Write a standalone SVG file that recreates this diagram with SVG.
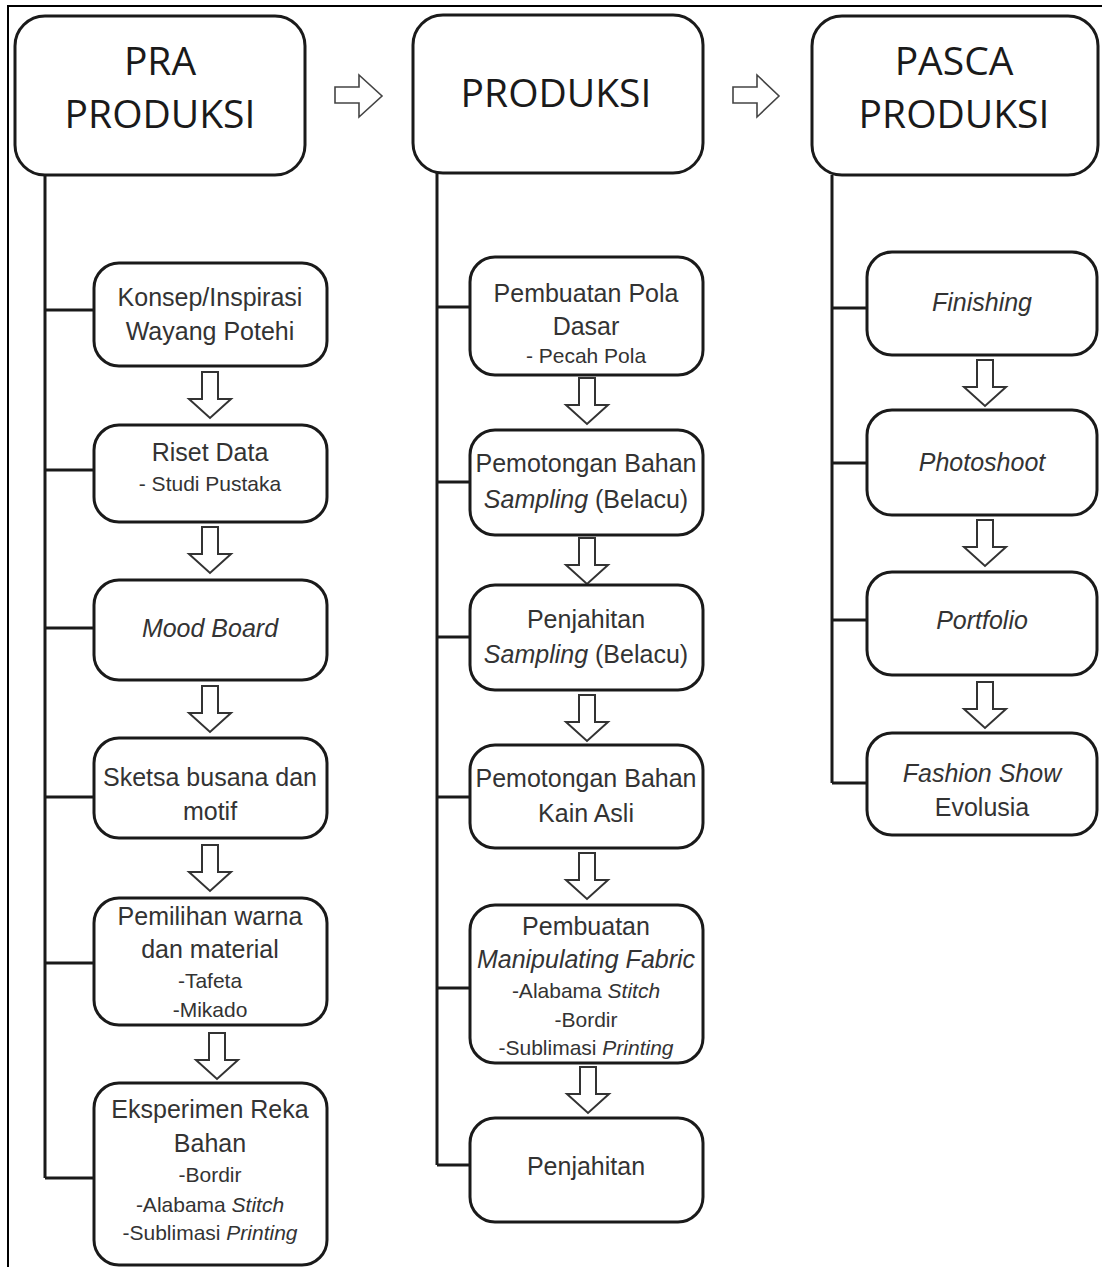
<svg xmlns="http://www.w3.org/2000/svg" width="1102" height="1267" viewBox="0 0 1102 1267">
<style>
.frame{fill:none;stroke:#000;stroke-width:2}
.hbox{fill:#fff;stroke:#1a1a1a;stroke-width:3}
.box{fill:#fff;stroke:#1a1a1a;stroke-width:3}
.conn{fill:none;stroke:#1a1a1a;stroke-width:3}
.darr{fill:#fff;stroke:#333;stroke-width:2;stroke-linejoin:miter}
.harr{fill:#fff;stroke:#444;stroke-width:1.6}
.ht{font-family:'Open Sans','Noto Sans',sans-serif;font-size:39px;fill:#1a1a1a;text-anchor:middle}
.t{font-family:'Liberation Sans',Arial,sans-serif;font-size:25px;fill:#333;text-anchor:middle}
.s{font-family:'Liberation Sans',Arial,sans-serif;font-size:21px;fill:#333;text-anchor:middle}
.i{font-style:italic}
</style>
<defs>
<path id="da" d="M-8,0 H8 V27 H21 L0,46 L-21,27 H-8 Z"/>
</defs>
<g id="frame">
<path class="frame" d="M8,1267 V6 H1102"/>
</g>
<g id="connectors">
<path class="conn" d="M45,175 V1178 M45,310 H95 M45,470 H95 M45,628 H95 M45,797 H95 M45,963 H95 M45,1178 H95"/>
<path class="conn" d="M437,173 V1165 M437,307 H470 M437,482 H470 M437,637 H470 M437,797 H470 M437,988 H470 M437,1165 H470"/>
<path class="conn" d="M832,175 V783 M832,308 H867 M832,463 H867 M832,620 H867 M832,783 H867"/>
<path class="harr" d="M335,87 H359 V75 L382,96 L359,117 V103 H335 Z"/>
<path class="harr" d="M733,87 H757 V75 L779,96 L757,117 V103 H733 Z"/>
<use href="#da" class="darr" x="210" y="372"/>
<use href="#da" class="darr" x="210" y="527"/>
<use href="#da" class="darr" x="210" y="686"/>
<use href="#da" class="darr" x="210" y="845"/>
<use href="#da" class="darr" x="217" y="1033"/>
<use href="#da" class="darr" x="587" y="378"/>
<use href="#da" class="darr" x="587" y="538"/>
<use href="#da" class="darr" x="587" y="695"/>
<use href="#da" class="darr" x="587" y="853"/>
<use href="#da" class="darr" x="588" y="1067"/>
<use href="#da" class="darr" x="985" y="360"/>
<use href="#da" class="darr" x="985" y="520"/>
<use href="#da" class="darr" x="985" y="682"/>
</g>
<g id="pra">
<rect class="hbox" x="15" y="16" width="290" height="159" rx="30"/>
<text class="ht" x="160" y="75">PRA</text>
<text class="ht" x="160" y="128">PRODUKSI</text>
</g>
<g id="produksi">
<rect class="hbox" x="413" y="15" width="290" height="158" rx="30"/>
<text class="ht" x="556" y="107">PRODUKSI</text>
</g>
<g id="pasca">
<rect class="hbox" x="812" y="16" width="286" height="159" rx="30"/>
<text class="ht" x="954" y="75">PASCA</text>
<text class="ht" x="954" y="128">PRODUKSI</text>
</g>
<g id="konsep">
<rect class="box" x="94" y="263" width="233" height="103" rx="25"/>
<text class="t" x="210" y="306">Konsep/Inspirasi</text>
<text class="t" x="210" y="340">Wayang Potehi</text>
</g>
<g id="riset">
<rect class="box" x="94" y="425" width="233" height="97" rx="25"/>
<text class="t" x="210" y="461">Riset Data</text>
<text class="s" x="210" y="491">- Studi Pustaka</text>
</g>
<g id="mood">
<rect class="box" x="94" y="580" width="233" height="100" rx="25"/>
<text class="t i" x="210" y="637">Mood Board</text>
</g>
<g id="sketsa">
<rect class="box" x="94" y="738" width="233" height="100" rx="25"/>
<text class="t" x="210" y="786">Sketsa busana dan</text>
<text class="t" x="210" y="820">motif</text>
</g>
<g id="pemilihan">
<rect class="box" x="94" y="898" width="233" height="127" rx="25"/>
<text class="t" x="210" y="925">Pemilihan warna</text>
<text class="t" x="210" y="958">dan material</text>
<text class="s" x="210" y="988">-Tafeta</text>
<text class="s" x="210" y="1017">-Mikado</text>
</g>
<g id="eksperimen">
<rect class="box" x="94" y="1083" width="233" height="182" rx="25"/>
<text class="t" x="210" y="1118">Eksperimen Reka</text>
<text class="t" x="210" y="1152">Bahan</text>
<text class="s" x="210" y="1182">-Bordir</text>
<text class="s" x="210" y="1212">-Alabama <tspan class="i">Stitch</tspan></text>
<text class="s" x="210" y="1240">-Sublimasi <tspan class="i">Printing</tspan></text>
</g>
<g id="pola">
<rect class="box" x="470" y="257" width="233" height="118" rx="25"/>
<text class="t" x="586" y="302">Pembuatan Pola</text>
<text class="t" x="586" y="335">Dasar</text>
<text class="s" x="586" y="363">- Pecah Pola</text>
</g>
<g id="potong-sampling">
<rect class="box" x="470" y="430" width="233" height="105" rx="25"/>
<text class="t" x="586" y="472">Pemotongan Bahan</text>
<text class="t" x="586" y="508"><tspan class="i">Sampling</tspan> (Belacu)</text>
</g>
<g id="jahit-sampling">
<rect class="box" x="470" y="585" width="233" height="105" rx="25"/>
<text class="t" x="586" y="628">Penjahitan</text>
<text class="t" x="586" y="663"><tspan class="i">Sampling</tspan> (Belacu)</text>
</g>
<g id="potong-asli">
<rect class="box" x="470" y="745" width="233" height="103" rx="25"/>
<text class="t" x="586" y="787">Pemotongan Bahan</text>
<text class="t" x="586" y="822">Kain Asli</text>
</g>
<g id="manipulating">
<rect class="box" x="470" y="905" width="233" height="158" rx="25"/>
<text class="t" x="586" y="935">Pembuatan</text>
<text class="t i" x="586" y="968">Manipulating Fabric</text>
<text class="s" x="586" y="998">-Alabama <tspan class="i">Stitch</tspan></text>
<text class="s" x="586" y="1027">-Bordir</text>
<text class="s" x="586" y="1055">-Sublimasi <tspan class="i">Printing</tspan></text>
</g>
<g id="penjahitan">
<rect class="box" x="470" y="1118" width="233" height="104" rx="25"/>
<text class="t" x="586" y="1175">Penjahitan</text>
</g>
<g id="finishing">
<rect class="box" x="867" y="252" width="230" height="103" rx="25"/>
<text class="t i" x="982" y="311">Finishing</text>
</g>
<g id="photoshoot">
<rect class="box" x="867" y="410" width="230" height="105" rx="25"/>
<text class="t i" x="982" y="471">Photoshoot</text>
</g>
<g id="portfolio">
<rect class="box" x="867" y="572" width="230" height="103" rx="25"/>
<text class="t i" x="982" y="629">Portfolio</text>
</g>
<g id="fashion">
<rect class="box" x="867" y="733" width="230" height="102" rx="25"/>
<text class="t i" x="982" y="782">Fashion Show</text>
<text class="t" x="982" y="816">Evolusia</text>
</g>
</svg>
